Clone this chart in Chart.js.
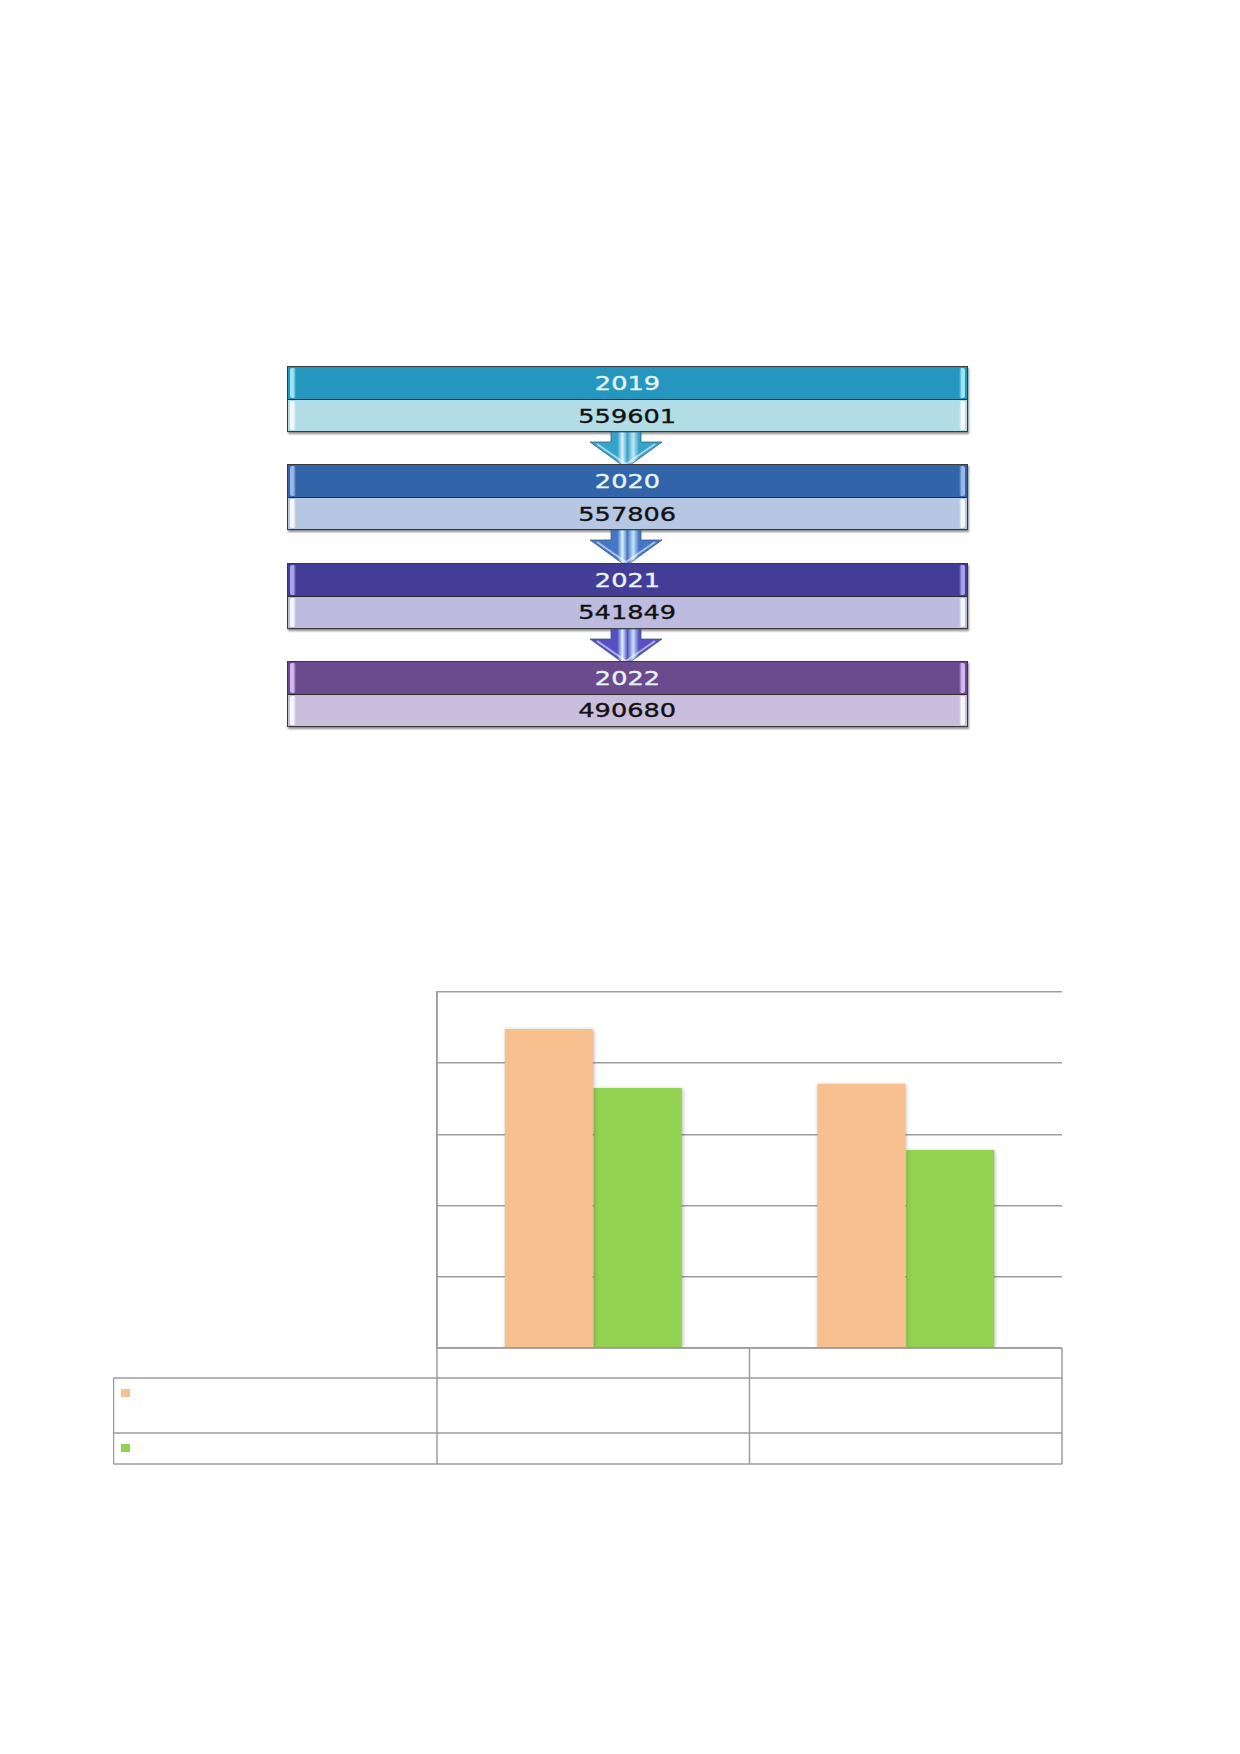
<!DOCTYPE html>
<html>
<head>
<meta charset="utf-8">
<script src="https://cdn.jsdelivr.net/npm/chart.js@4"></script>
<style>
  html, body { margin: 0; padding: 0; background: #fff; }
  body { width: 1240px; height: 1754px; position: relative; overflow: hidden; font-family: "DejaVu Sans", Verdana, sans-serif; }
  .blk { position: absolute; left: 287px; width: 681px; box-sizing: border-box; border: 1.5px solid #3a3a3a; box-shadow: 1px 2px 2px rgba(0,0,0,0.45); }
  .hd, .vl { position: relative; box-sizing: border-box; display: flex; align-items: center; justify-content: center; }
  .hd { height: 33px; border-bottom: 1.5px solid #2d2d2d; }
  .vl { height: 31px; }
  .txt { display: inline-block; font-size: 20px; transform: scaleX(1.28); -webkit-text-stroke: 0.35px currentColor; }
  .hd .txt { color: #e8f5f8; }
  .vl .txt { color: #111; }
  .strip { position: absolute; top: 1px; bottom: 1px; width: 6px; border-radius: 2px; }
  #chartWrap { position: absolute; left: 113px; top: 980px; width: 950px; height: 490px; }
  svg.arrow { position: absolute; overflow: visible; }
</style>
</head>
<body>
<div id="info"></div>
<div id="chartWrap"><canvas id="c"></canvas></div>
<script>
// ---- Data ----
const years = ['2019', '2020', '2021', '2022'];
const totals = [559601, 557806, 541849, 490680];
const headerColors = ['#2596bd', '#3264aa', '#443d97', '#6b4a8d'];
const valueColors = ['#b3dde6', '#b6c7e4', '#bdbce0', '#c9bedc'];
const stripColors = ['#9ae6f4', '#9cb8e6', '#a9a4ea', '#d2b6ee'];
const arrowColors = ['#35a4ca', '#4676c6', '#5650c2'];

const categories = ['', ''];
const seriesA = [4.48, 3.71];
const seriesB = [3.65, 2.78];
const seriesColors = ['#f8c08f', '#93d150'];
const yTicks = [0, 1, 2, 3, 4, 5];

// ---- Infographic (year -> total) ----
const info = document.getElementById('info');
const top0 = 366, pitch = 98.3;
years.forEach((y, i) => {
  const t = top0 + i * pitch;
  const blk = document.createElement('div');
  blk.className = 'blk';
  blk.style.top = t + 'px';
  const hd = document.createElement('div');
  hd.className = 'hd';
  hd.style.background = headerColors[i];
  hd.innerHTML = '<span class="txt">' + y + '</span>';
  const vl = document.createElement('div');
  vl.className = 'vl';
  vl.style.background = valueColors[i];
  vl.innerHTML = '<span class="txt">' + totals[i] + '</span>';
  [['left', stripColors[i], hd], ['right', stripColors[i], hd], ['left', '#f6f9fb', vl], ['right', '#f6f9fb', vl]].forEach(([side, col, el]) => {
    const s = document.createElement('div');
    s.className = 'strip';
    s.style[side] = '2px';
    s.style.background = 'linear-gradient(to ' + (side === 'left' ? 'right' : 'left') + ', ' + col + ', ' + col + ' 55%, rgba(255,255,255,0))';
    el.appendChild(s);
  });
  blk.appendChild(hd);
  blk.appendChild(vl);
  info.appendChild(blk);

  if (i < years.length - 1) {
    const c = arrowColors[i];
    const ay = t + 66;
    const svgNS = 'http://www.w3.org/2000/svg';
    const svg = document.createElementNS(svgNS, 'svg');
    svg.setAttribute('class', 'arrow');
    svg.setAttribute('width', '76');
    svg.setAttribute('height', '38');
    svg.style.left = '589px';
    svg.style.top = ay + 'px';
    const gid = 'g' + i;
    svg.innerHTML =
      '<defs><linearGradient id="' + gid + '" x1="0" x2="1" y1="0" y2="0">' +
      '<stop offset="0" stop-color="' + c + '"/>' +
      '<stop offset="0.38" stop-color="' + c + '"/>' +
      '<stop offset="0.45" stop-color="#d8f1fa"/>' +
      '<stop offset="0.52" stop-color="' + c + '"/>' +
      '<stop offset="0.6" stop-color="#c6e6f5"/>' +
      '<stop offset="0.68" stop-color="' + c + '"/>' +
      '<stop offset="1" stop-color="' + c + '"/>' +
      '</linearGradient></defs>' +
      '<polygon points="22,0 52,0 52,10 73,10 37,36 1,10 22,10" fill="url(#' + gid + ')" stroke="#3b5f7a" stroke-width="0.8"/>' +
      '<polyline points="8,12 37,32 66,12" fill="none" stroke="rgba(255,255,255,0.55)" stroke-width="2"/>';
    info.appendChild(svg);
  }
});

// ---- Bar chart with data table ----
const tablePlugin = {
  id: 'tablePlugin',
  beforeDatasetsDraw(chart) {
    const ctx = chart.ctx;
    ctx.save();
    ctx.shadowColor = 'rgba(0,0,0,0.28)';
    ctx.shadowBlur = 4;
    ctx.shadowOffsetX = 1;
    ctx.shadowOffsetY = 1;
  },
  afterDatasetsDraw(chart) {
    chart.ctx.restore();
  },
  afterDraw(chart) {
    const ctx = chart.ctx;
    const a = chart.chartArea;
    const xs = chart.scales.x;
    const mid = (xs.getPixelForValue(0) + xs.getPixelForValue(1)) / 2;
    const r0 = a.bottom, r1 = a.bottom + 30, r2 = a.bottom + 85, r3 = a.bottom + 116;
    const tl = 0.5;
    ctx.save();
    ctx.strokeStyle = '#9d9d9d';
    ctx.lineWidth = 1.5;
    ctx.beginPath();
    ctx.moveTo(a.left, r0); ctx.lineTo(a.right, r0);
    ctx.moveTo(tl, r1); ctx.lineTo(a.right, r1);
    ctx.moveTo(tl, r2); ctx.lineTo(a.right, r2);
    ctx.moveTo(tl, r3); ctx.lineTo(a.right, r3);
    ctx.moveTo(tl, r1); ctx.lineTo(tl, r3);
    ctx.moveTo(a.left, a.top); ctx.lineTo(a.left, r3);
    ctx.moveTo(mid, r0); ctx.lineTo(mid, r3);
    ctx.moveTo(a.right, r0); ctx.lineTo(a.right, r3);
    ctx.stroke();
    const keys = [r1 + 11, r2 + 11];
    chart.data.datasets.forEach((ds, i) => {
      ctx.fillStyle = ds.backgroundColor;
      ctx.fillRect(8, keys[i], 9, 8);
    });
    ctx.restore();
  }
};

new Chart(document.getElementById('c'), {
  type: 'bar',
  data: {
    labels: categories,
    datasets: [
      { label: 'A', data: seriesA, backgroundColor: seriesColors[0], borderWidth: 0 },
      { label: 'B', data: seriesB, backgroundColor: seriesColors[1], borderWidth: 0 }
    ]
  },
  options: {
    responsive: true,
    maintainAspectRatio: false,
    animation: false,
    layout: { padding: { left: 324, top: 12, right: 1, bottom: 122 } },
    datasets: { bar: { categoryPercentage: 0.569, barPercentage: 0.99 } },
    plugins: { legend: { display: false }, tooltip: { enabled: false }, title: { display: false } },
    scales: {
      x: {
        grid: { display: false },
        border: { display: false },
        ticks: { display: false },
        afterFit: s => { s.height = 0; }
      },
      y: {
        min: yTicks[0],
        max: yTicks[yTicks.length - 1],
        afterBuildTicks: s => { s.ticks = yTicks.map(v => ({ value: v })); },
        ticks: { display: false },
        grid: { color: '#9d9d9d', lineWidth: 1.5, drawTicks: false },
        border: { display: true, color: '#9d9d9d', width: 1.5 },
        afterFit: s => { s.width = 0; }
      }
    }
  },
  plugins: [tablePlugin]
});
</script>
</body>
</html>
